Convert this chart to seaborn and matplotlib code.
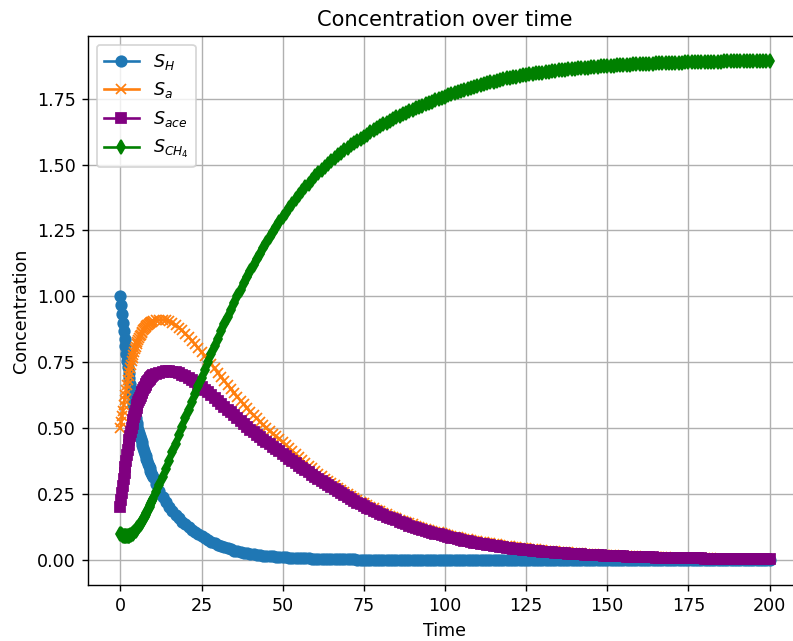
import numpy as np
import matplotlib
matplotlib.use("Agg")
import matplotlib.pyplot as plt
import seaborn as sns

# Sampling times: quarter steps over the fast start, unit steps afterwards
time = np.concatenate([np.arange(0, 10, 0.25), np.arange(10, 201, 1.0)])

S_H = [
    # t = 0 .. 9.75 (step 0.25)
    1.000, 0.966, 0.932, 0.900, 0.869, 0.840, 0.811, 0.783, 0.756, 0.733,
    0.711, 0.689, 0.668, 0.648, 0.628, 0.609, 0.590, 0.572, 0.554, 0.537,
    0.520, 0.507, 0.495, 0.482, 0.470, 0.458, 0.447, 0.436, 0.425, 0.414,
    0.404, 0.394, 0.385, 0.375, 0.366, 0.357, 0.348, 0.339, 0.331, 0.323,
    # t = 10 .. 200 (step 1)
    0.315, 0.288, 0.263, 0.240, 0.220, 0.201, 0.185, 0.171, 0.158, 0.146,
    0.135, 0.125, 0.115, 0.106, 0.098, 0.090, 0.082, 0.075, 0.069, 0.063,
    0.057, 0.052, 0.048, 0.044, 0.040, 0.036, 0.033, 0.030, 0.028, 0.026,
    0.024, 0.022, 0.020, 0.0185, 0.017, 0.016, 0.015, 0.014, 0.013, 0.012,
    0.011, 0.010, 0.0095, 0.0088, 0.0082, 0.0076, 0.0071, 0.0066, 0.0061, 0.0057,
    0.0053, 0.0049, 0.0046, 0.0043, 0.0040, 0.0037, 0.0034, 0.0031, 0.0029, 0.0027,
    0.0025, 0.0024, 0.0022, 0.0020, 0.0019, 0.0018, 0.0016, 0.0015, 0.0014, 0.0013,
    0.0012, 0.0011, 0.0010, 0.0010, 0.0009, 0.0009, 0.0008, 0.0008, 0.0007, 0.0007,
    0.0006, 0.0006, 0.0005, 0.0005, 0.0005, 0.0004, 0.0004, 0.0004, 0.0003, 0.0003,
    0.0003, 0.0003, 0.0003, 0.0002, 0.0002, 0.0002, 0.0002, 0.0002, 0.0002, 0.0002,
    0.0002, 0.0002, 0.0002, 0.0002, 0.0002, 0.0002, 0.0002, 0.0002, 0.0002, 0.0002,
    0.0001, 0.0001, 0.0001, 0.0001, 0.0001, 0.0001, 0.0001, 0.0001, 0.0001, 0.0001,
    0.0001, 0.0001, 0.0001, 0.0001, 0.0001, 0.0001, 0.0001, 0.0001, 0.0001, 0.0001,
    0.0001, 0.0001, 0.0001, 0.0001, 0.0001, 0.0001, 0.0001, 0.0001, 0.0001, 0.0001,
    0.0001, 0.0001, 0.0001, 0.0001, 0.0001, 0.0001, 0.0001, 0.0001, 0.0001, 0.0001,
    0.0, 0.0, 0.0, 0.0, 0.0, 0.0, 0.0, 0.0, 0.0, 0.0,
    0.0, 0.0, 0.0, 0.0, 0.0, 0.0, 0.0, 0.0, 0.0, 0.0,
    0.0, 0.0, 0.0, 0.0, 0.0, 0.0, 0.0, 0.0, 0.0, 0.0,
    0.0, 0.0, 0.0, 0.0, 0.0, 0.0, 0.0, 0.0, 0.0, 0.0,
    0.0,
]

S_a = [
    # t = 0 .. 9.75 (step 0.25)
    0.500, 0.523, 0.545, 0.567, 0.588, 0.608, 0.627, 0.646, 0.664, 0.681,
    0.697, 0.712, 0.727, 0.741, 0.754, 0.766, 0.778, 0.789, 0.799, 0.809,
    0.818, 0.826, 0.834, 0.841, 0.848, 0.854, 0.860, 0.866, 0.871, 0.876,
    0.880, 0.884, 0.887, 0.890, 0.893, 0.896, 0.898, 0.900, 0.902, 0.904,
    # t = 10 .. 200 (step 1)
    0.905, 0.909, 0.911, 0.911, 0.909, 0.905, 0.899, 0.891, 0.882, 0.871,
    0.859, 0.846, 0.832, 0.818, 0.803, 0.788, 0.773, 0.758, 0.742, 0.727,
    0.711, 0.696, 0.680, 0.665, 0.650, 0.635, 0.620, 0.605, 0.590, 0.576,
    0.562, 0.549, 0.537, 0.525, 0.513, 0.501, 0.490, 0.479, 0.469, 0.459,
    0.449, 0.437, 0.425, 0.413, 0.402, 0.391, 0.380, 0.369, 0.358, 0.348,
    0.338, 0.328, 0.319, 0.309, 0.300, 0.291, 0.283, 0.274, 0.266, 0.258,
    0.251, 0.243, 0.236, 0.229, 0.222, 0.215, 0.209, 0.203, 0.197, 0.191,
    0.185, 0.179, 0.174, 0.168, 0.163, 0.158, 0.153, 0.148, 0.144, 0.139,
    0.135, 0.131, 0.127, 0.123, 0.119, 0.115, 0.112, 0.108, 0.105, 0.101,
    0.098, 0.095, 0.092, 0.089, 0.086, 0.083, 0.081, 0.078, 0.076, 0.073,
    0.071, 0.069, 0.067, 0.065, 0.063, 0.061, 0.059, 0.057, 0.055, 0.053,
    0.052, 0.050, 0.048, 0.047, 0.045, 0.044, 0.043, 0.041, 0.040, 0.038,
    0.037, 0.036, 0.035, 0.034, 0.033, 0.032, 0.031, 0.030, 0.029, 0.028,
    0.027, 0.026, 0.025, 0.0242, 0.0233, 0.0225, 0.0217, 0.0209, 0.0202, 0.0195,
    0.0188, 0.0181, 0.0175, 0.0168, 0.0162, 0.0157, 0.0151, 0.0146, 0.0140, 0.0135,
    0.0130, 0.0126, 0.0121, 0.0117, 0.0113, 0.0109, 0.0105, 0.0101, 0.0098, 0.0094,
    0.0091, 0.0088, 0.0085, 0.0082, 0.0079, 0.0076, 0.0073, 0.0071, 0.0068, 0.0066,
    0.0064, 0.0061, 0.0059, 0.0057, 0.0055, 0.0053, 0.0051, 0.0050, 0.0048, 0.0046,
    0.0045, 0.0043, 0.0042, 0.0040, 0.0039, 0.0037, 0.0036, 0.0035, 0.0034, 0.0032,
    0.0031,
]

S_ace = [
    # t = 0 .. 9.75 (step 0.25)
    0.200, 0.228, 0.256, 0.282, 0.307, 0.331, 0.354, 0.376, 0.397, 0.417,
    0.436, 0.454, 0.471, 0.487, 0.502, 0.516, 0.530, 0.543, 0.555, 0.567,
    0.578, 0.588, 0.598, 0.607, 0.616, 0.624, 0.632, 0.639, 0.646, 0.652,
    0.658, 0.664, 0.669, 0.674, 0.679, 0.683, 0.687, 0.691, 0.694, 0.697,
    # t = 10 .. 200 (step 1)
    0.700, 0.706, 0.711, 0.714, 0.716, 0.716, 0.715, 0.712, 0.708, 0.703,
    0.697, 0.690, 0.682, 0.674, 0.665, 0.656, 0.646, 0.636, 0.626, 0.615,
    0.604, 0.593, 0.582, 0.571, 0.560, 0.549, 0.538, 0.527, 0.516, 0.505,
    0.495, 0.485, 0.476, 0.466, 0.457, 0.448, 0.439, 0.430, 0.421, 0.412,
    0.403, 0.394, 0.385, 0.376, 0.367, 0.358, 0.350, 0.341, 0.333, 0.324,
    0.316, 0.308, 0.300, 0.292, 0.284, 0.276, 0.268, 0.260, 0.253, 0.246,
    0.239, 0.232, 0.225, 0.218, 0.212, 0.205, 0.199, 0.193, 0.187, 0.181,
    0.176, 0.170, 0.165, 0.160, 0.155, 0.150, 0.145, 0.140, 0.136, 0.131,
    0.127, 0.123, 0.119, 0.115, 0.111, 0.107, 0.104, 0.100, 0.097, 0.094,
    0.091, 0.088, 0.085, 0.082, 0.079, 0.076, 0.074, 0.071, 0.069, 0.066,
    0.064, 0.062, 0.060, 0.058, 0.056, 0.054, 0.052, 0.050, 0.049, 0.047,
    0.045, 0.0436, 0.0422, 0.0408, 0.0395, 0.0382, 0.0369, 0.0357, 0.0345, 0.0333,
    0.0322, 0.0311, 0.0301, 0.0291, 0.0281, 0.0271, 0.0262, 0.0253, 0.0245, 0.0236,
    0.0228, 0.0220, 0.0213, 0.0206, 0.0199, 0.0192, 0.0185, 0.0179, 0.0173, 0.0167,
    0.0161, 0.0156, 0.0150, 0.0145, 0.0140, 0.0135, 0.0131, 0.0126, 0.0122, 0.0118,
    0.0114, 0.0110, 0.0106, 0.0103, 0.0099, 0.0096, 0.0093, 0.0089, 0.0086, 0.0083,
    0.0081, 0.0078, 0.0075, 0.0073, 0.0070, 0.0068, 0.0066, 0.0063, 0.0061, 0.0059,
    0.0057, 0.0055, 0.0053, 0.0052, 0.0050, 0.0048, 0.0047, 0.0045, 0.0043, 0.0042,
    0.0041, 0.0039, 0.0038, 0.0037, 0.0035, 0.0034, 0.0033, 0.0032, 0.0031, 0.0030,
    0.0029,
]

S_CH4 = [
    # t = 0 .. 9.75 (step 0.25)
    0.100, 0.097, 0.095, 0.093, 0.092, 0.091, 0.090, 0.090, 0.090, 0.090,
    0.091, 0.092, 0.094, 0.096, 0.098, 0.100, 0.103, 0.106, 0.109, 0.112,
    0.116, 0.120, 0.124, 0.128, 0.133, 0.138, 0.143, 0.148, 0.154, 0.159,
    0.165, 0.171, 0.177, 0.183, 0.190, 0.196, 0.203, 0.210, 0.217, 0.224,
    # t = 10 .. 200 (step 1)
    0.230, 0.257, 0.285, 0.314, 0.345, 0.377, 0.409, 0.441, 0.473, 0.505,
    0.537, 0.568, 0.599, 0.630, 0.660, 0.690, 0.720, 0.750, 0.780, 0.810,
    0.839, 0.867, 0.895, 0.922, 0.949, 0.975, 1.001, 1.026, 1.050, 1.074,
    1.097, 1.119, 1.141, 1.162, 1.183, 1.204, 1.224, 1.244, 1.263, 1.282,
    1.300, 1.318, 1.335, 1.352, 1.368, 1.384, 1.399, 1.414, 1.428, 1.442,
    1.455, 1.468, 1.480, 1.492, 1.503, 1.514, 1.525, 1.535, 1.545, 1.555,
    1.564, 1.573, 1.582, 1.590, 1.598, 1.606, 1.614, 1.622, 1.630, 1.638,
    1.645, 1.652, 1.659, 1.666, 1.672, 1.679, 1.685, 1.691, 1.697, 1.703,
    1.708, 1.714, 1.719, 1.724, 1.729, 1.734, 1.739, 1.744, 1.748, 1.753,
    1.757, 1.762, 1.767, 1.772, 1.776, 1.780, 1.784, 1.788, 1.792, 1.796,
    1.799, 1.803, 1.806, 1.809, 1.812, 1.815, 1.818, 1.821, 1.824, 1.827,
    1.829, 1.832, 1.834, 1.836, 1.838, 1.840, 1.842, 1.844, 1.846, 1.848,
    1.849, 1.851, 1.853, 1.855, 1.856, 1.858, 1.859, 1.860, 1.861, 1.863,
    1.864, 1.865, 1.866, 1.867, 1.868, 1.869, 1.870, 1.871, 1.872, 1.873,
    1.874, 1.8745, 1.875, 1.876, 1.877, 1.8775, 1.878, 1.879, 1.880, 1.8805,
    1.881, 1.8815, 1.882, 1.8825, 1.883, 1.8835, 1.884, 1.8845, 1.885, 1.8855,
    1.886, 1.8865, 1.887, 1.887, 1.8875, 1.888, 1.888, 1.8885, 1.889, 1.889,
    1.889, 1.8895, 1.890, 1.890, 1.890, 1.8905, 1.891, 1.891, 1.891, 1.8915,
    1.892, 1.892, 1.892, 1.892, 1.8925, 1.8925, 1.893, 1.893, 1.893, 1.893,
    1.893,
]

series = [
    (S_H, r"$S_H$", "o", "#1f77b4"),
    (S_a, r"$S_a$", "x", "#ff7f0e"),
    (S_ace, r"$S_{ace}$", "s", "purple"),
    (S_CH4, r"$S_{CH_4}$", "d", "green"),
]

DPI = 126
fig = plt.figure(figsize=(793 / DPI, 641 / DPI), dpi=DPI)
ax = fig.add_axes([88 / 793, 1 - 585 / 641, 714 / 793, 549 / 641])

for values, label, marker, color in series:
    sns.lineplot(
        x=time, y=np.asarray(values), ax=ax, label=label, color=color,
        marker=marker, markersize=6, markeredgecolor=color,
        markeredgewidth=1.0, linewidth=1.5, sort=False,
    )

ax.set_title("Concentration over time", fontsize=12)
ax.set_xlabel("Time", fontsize=10)
ax.set_ylabel("Concentration", fontsize=10)
ax.grid(True)
ax.legend(loc="upper left")

fig.savefig("out.png", dpi=DPI)
